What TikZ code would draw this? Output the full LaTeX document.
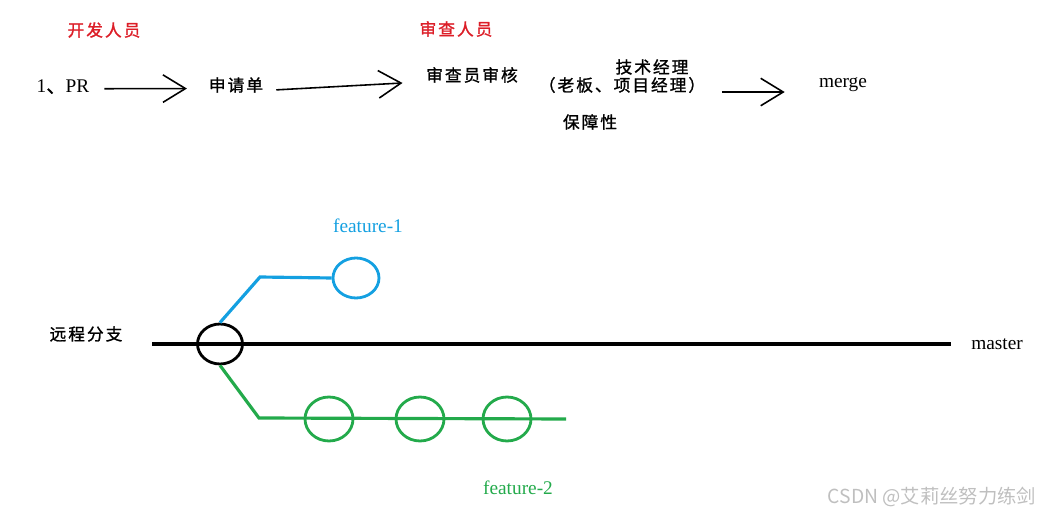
\documentclass[tikz,border=0pt]{standalone}
\usepackage{fontspec}
\setmainfont{Liberation Serif}
\newfontfamily\cjk[LetterSpace=12, FakeBold=1.2]{Noto Sans CJK SC}
\newfontfamily\markfont{Noto Sans CJK SC}
\usetikzlibrary{positioning,arrows.meta,shapes.geometric}
\definecolor{rolered}{RGB}{220,30,40}
\definecolor{featblue}{RGB}{20,160,225}
\definecolor{featgreen}{RGB}{35,170,75}
\tikzset{
    >={Straight Barb[length=4.5mm,width=5.5mm]},
    role/.style={font=\cjk\fontsize{9.5}{12}\selectfont, text=rolered},
    flowtext/.style={font=\cjk\fontsize{9.5}{12}\selectfont},
    latin/.style={font=\fontsize{11}{13}\selectfont},
    handarrow/.style={->, line width=0.9pt},
    commit/.style={ellipse, draw, line width=1.6pt, minimum width=0.9cm, minimum height=0.8cm, inner sep=0pt},
    branch/.style={line width=1.8pt}
}

\begin{document}
\begin{tikzpicture}[x=0.02cm, y=-0.02cm]
    \useasboundingbox (0,0) rectangle (1041,516);
    \node[role] (dev) at (104,30) {开发人员};
    \node[role] (rev) at (456,29) {审查人员};
    \node[latin] (pr) at (63,87) {1{\cjk 、}PR};
    \node[flowtext] (req) at (236,85) {申请单};
    \node[flowtext] (check) at (472,75) {审查员审核};
    \node[flowtext] (tech) at (652,67) {技术经理};
    \node[flowtext] (boss) at (622,85) {（老板、项目经理）};
    \node[flowtext] (safe) at (590,122) {保障性};
    \node[latin] (merge) at (843,85) {merge};
    \draw[handarrow, shorten <=5pt, shorten >=9pt] ([yshift=-1pt]pr.east) -- ([yshift=-2pt]req.west);
    \draw[handarrow, shorten <=4pt, shorten >=10pt] ([yshift=-3pt]req.east) -- ([yshift=-4pt]check.west);
    \draw[handarrow, shorten <=6pt, shorten >=16pt] ([yshift=-4pt]boss.east) -- ([yshift=-4pt]merge.west);

    \node[flowtext] (remote) at (86,334) {远程分支};
    \node[latin] (master) at (997,344) {master};
    \coordinate (mstart) at (152,344);
    \draw[branch, shorten >=8pt] (mstart) -- (master.west);
    \node[commit, draw=black] (base) at (220,344) {};

    \node[commit, draw=featblue, minimum width=0.92cm] (f1) at (356,278) {};
    \coordinate (bend1) at (260,277);
    \draw[branch, featblue] (base.north) -- (bend1) -- (f1.west);
    \node[latin, text=featblue] (f1name) at (368,226) {feature-1};

    \coordinate (bend2) at (259,418);
    \coordinate (tip2) at (566,419);
    \draw[branch, featgreen] (base.south) -- (bend2) -- (tip2);
    \node[commit, draw=featgreen, minimum width=0.96cm, minimum height=0.88cm] (c1) at (329,419) {};
    \node[commit, draw=featgreen, minimum width=0.96cm, minimum height=0.88cm] (c2) at (420,419) {};
    \node[commit, draw=featgreen, minimum width=0.96cm, minimum height=0.88cm] (c3) at (507,419) {};
    \node[latin, text=featgreen] (f2name) at (518,488) {feature-2};

    \node[font=\markfont\fontsize{11}{13}\selectfont, text=black!25] (mark) at (932,497) {CSDN @艾莉丝努力练剑};
\end{tikzpicture}
\end{document}
